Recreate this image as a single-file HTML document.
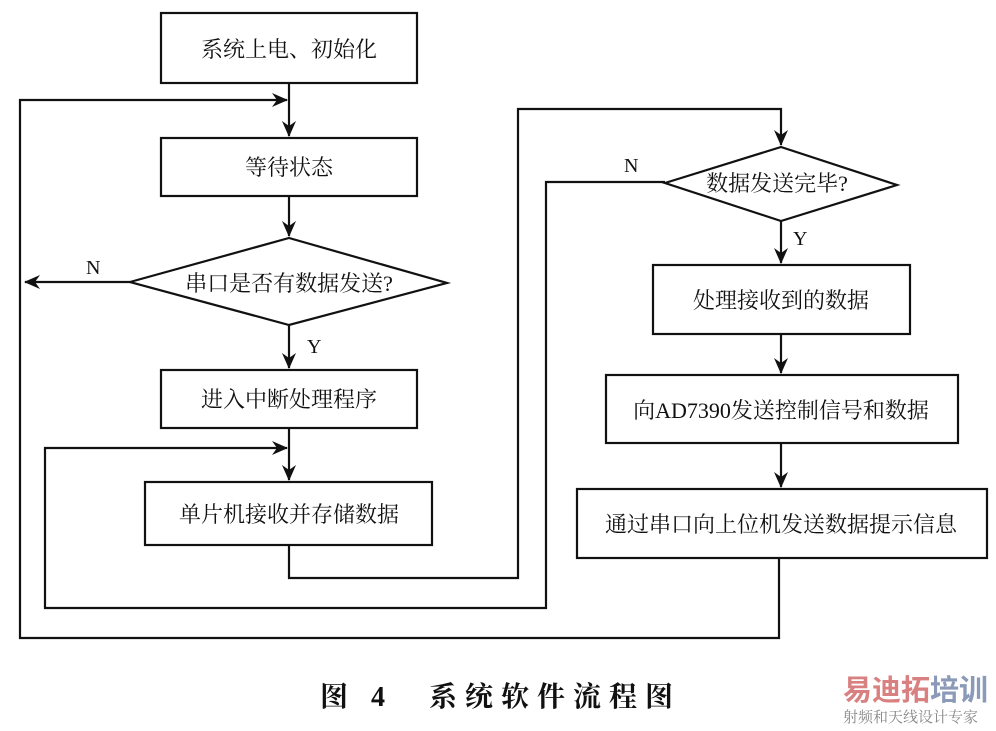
<!DOCTYPE html>
<html><head><meta charset="utf-8"><style>
body{margin:0;background:#fff}
svg text{font-family:"Liberation Serif","Noto Serif CJK SC",serif;fill:#111}
</style></head><body>
<svg width="996" height="726" viewBox="0 0 996 726" xmlns="http://www.w3.org/2000/svg">
<defs><marker id="a" markerWidth="16" markerHeight="14" refX="15" refY="7" orient="auto" markerUnits="userSpaceOnUse"><path d="M0,0 L16,7 L0,14 L5,7 Z" fill="#111"/></marker></defs>
<g stroke="#111" stroke-width="2.2" fill="none">
<rect x="161" y="13" width="256" height="70"/>
<rect x="161" y="138" width="256" height="58"/>
<polygon points="130,282 289,238 447,283 289,325"/>
<rect x="161" y="370" width="256" height="58"/>
<rect x="145" y="482" width="287" height="63"/>
<polygon points="665,183 781,147 897,185 781,221"/>
<rect x="653" y="265" width="257" height="69"/>
<rect x="606" y="375" width="352" height="68"/>
<rect x="577" y="489" width="410" height="69"/>
<line x1="289" y1="83" x2="289" y2="136" marker-end="url(#a)"/>
<polyline points="779,558 779,638 20,638 20,100 287,100" marker-end="url(#a)"/>
<line x1="289" y1="196" x2="289" y2="236" marker-end="url(#a)"/>
<line x1="130" y1="282" x2="25" y2="282" marker-end="url(#a)"/>
<line x1="289" y1="325" x2="289" y2="368" marker-end="url(#a)"/>
<line x1="289" y1="428" x2="289" y2="480" marker-end="url(#a)"/>
<polyline points="665,182 546,182 546,608 45,608 45,448 287,448" marker-end="url(#a)"/>
<polyline points="289,545 289,578 518,578 518,109 781,109 781,145" marker-end="url(#a)"/>
<line x1="781" y1="221" x2="781" y2="263" marker-end="url(#a)"/>
<line x1="781" y1="334" x2="781" y2="373" marker-end="url(#a)"/>
<line x1="781" y1="443" x2="781" y2="487" marker-end="url(#a)"/>
</g>
<g font-size="22" text-anchor="middle">
<text x="289" y="57">系统上电、初始化</text>
<text x="289" y="175">等待状态</text>
<text x="289" y="291">串口是否有数据发送?</text>
<text x="289" y="407">进入中断处理程序</text>
<text x="289" y="522">单片机接收并存储数据</text>
<text x="777" y="191">数据发送完毕?</text>
<text x="781" y="308">处理接收到的数据</text>
<text x="781" y="418">向AD7390发送控制信号和数据</text>
<text x="781" y="532">通过串口向上位机发送数据提示信息</text>
</g>
<g font-size="20">
<text x="86" y="274">N</text>
<text x="307" y="353">Y</text>
<text x="624" y="172">N</text>
<text x="793" y="245">Y</text>
</g>
<text x="320" y="706" font-size="28" font-weight="bold" letter-spacing="8">图 4　系统软件流程图</text>
<text x="843" y="700" font-size="29" font-weight="bold" style="fill:#d98080;font-family:'Liberation Sans','Noto Sans CJK SC',sans-serif">易迪拓<tspan style="fill:#8a9ab8">培训</tspan></text>
<text x="843" y="722" font-size="15" style="fill:#888">射频和天线设计专家</text>
</svg>
</body></html>
